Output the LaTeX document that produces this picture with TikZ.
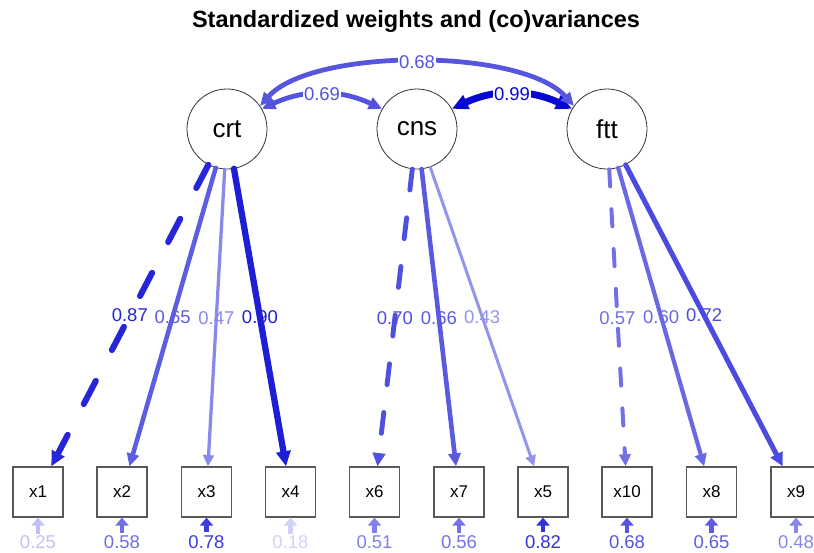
\documentclass[tikz,border=0pt]{standalone}
\usepackage{fontspec}
\setmainfont{Liberation Sans}
\usetikzlibrary{arrows.meta}

\definecolor{edgeblue}{RGB}{5,5,210}

\tikzset{
  lat/.style={circle, draw=black!80, line width=0.8pt, minimum size=80pt, inner sep=0pt,
    font=\fontsize{26}{26}\selectfont},
  obs/.style={rectangle, draw=black!65, line width=1.2pt, minimum size=50pt, inner sep=0pt,
    font=\fontsize{17}{17}\selectfont},
  % colour and width follow the standardized value
  wt/.style={/utils/exec={\pgfmathtruncatemacro\wpct{round(100*#1)}},
    color=edgeblue!\wpct!white, line width={7*#1}},
  load/.style={wt=#1, line cap=round, -{Triangle[length=7pt 1.3, width=7pt 1.1]}},
  fixdash/.style={/utils/exec={\pgfmathsetmacro\dshon{30*#1}\pgfmathsetmacro\dshoff{40*#1}},
    dash pattern=on \dshon pt off \dshoff pt},
  cov/.style={wt=#1, line cap=round,
    {Triangle[length=7pt 1.3, width=7pt 1.1]}-{Triangle[length=7pt 1.3, width=7pt 1.1]}},
  resl/.style={wt=#1, inner sep=0.5pt, font=\fontsize{18.5}{18.5}\selectfont},
  resarr/.style={wt=#1, line width=4.5pt, -{Triangle[length=8pt, width=13pt]}},
  lbl/.style={inner sep=0pt, font=\fontsize{18.5}{18.5}\selectfont},
  lblw/.style={fill=white, inner sep=1pt, font=\fontsize{18.5}{18.5}\selectfont}
}

\begin{document}
\begin{tikzpicture}[x=1pt,y=1pt]
\useasboundingbox (0,0) rectangle (814,-552);
\node (title) at (416,-21) {\fontsize{23.5}{23.5}\selectfont\bfseries Standardized weights and (co)variances};

% latent factors
\node[lat] (crt) at (227,-129) {crt};
\node[lat] (cns) at (417,-129) {cns};
\node[lat] (ftt) at (607,-129) {ftt};

% indicators
\node[obs] (x1) at (38,-492) {x1};
\node[obs] (x2) at (122,-492) {x2};
\node[obs] (x3) at (206.5,-492) {x3};
\node[obs] (x4) at (290.5,-492) {x4};
\node[obs] (x6) at (374.5,-492) {x6};
\node[obs] (x7) at (459,-492) {x7};
\node[obs] (x5) at (543,-492) {x5};
\node[obs] (x10) at (627,-492) {x10};
\node[obs] (x8) at (711.5,-492) {x8};
\node[obs] (x9) at (796,-492) {x9};

% residual variances
\node[resl=0.25] (r1) at (38,-542) {0.25};
\node[resl=0.58] (r2) at (122,-542) {0.58};
\node[resl=0.78] (r3) at (206.5,-542) {0.78};
\node[resl=0.18] (r4) at (290.5,-542) {0.18};
\node[resl=0.51] (r6) at (374.5,-542) {0.51};
\node[resl=0.56] (r7) at (459,-542) {0.56};
\node[resl=0.82] (r5) at (543,-542) {0.82};
\node[resl=0.68] (r10) at (627,-542) {0.68};
\node[resl=0.65] (r8) at (711.5,-542) {0.65};
\node[resl=0.48] (r9) at (796,-542) {0.48};

\draw[resarr=0.25] (r1) -- (x1);
\draw[resarr=0.58] (r2) -- (x2);
\draw[resarr=0.78] (r3) -- (x3);
\draw[resarr=0.18] (r4) -- (x4);
\draw[resarr=0.51] (r6) -- (x6);
\draw[resarr=0.56] (r7) -- (x7);
\draw[resarr=0.82] (r5) -- (x5);
\draw[resarr=0.68] (r10) -- (x10);
\draw[resarr=0.65] (r8) -- (x8);
\draw[resarr=0.48] (r9) -- (x9);

% loadings
\draw[load=0.87, fixdash=0.87] (crt) -- (x1) node[lbl, midway]{0.87};
\draw[load=0.65] (crt) -- (x2) node[lbl, midway]{0.65};
\draw[load=0.47] (crt) -- (x3) node[lbl, midway]{0.47};
\draw[load=0.90] (crt) -- (x4) node[lbl, midway]{0.90};
\draw[load=0.70, fixdash=0.70] (cns) -- (x6) node[lbl, midway]{0.70};
\draw[load=0.66] (cns) -- (x7) node[lbl, midway]{0.66};
\draw[load=0.43] (cns) -- (x5) node[lbl, midway]{0.43};
\draw[load=0.57, fixdash=0.57] (ftt) -- (x10) node[lbl, midway]{0.57};
\draw[load=0.60] (ftt) -- (x8) node[lbl, midway]{0.60};
\draw[load=0.72] (ftt) -- (x9) node[lbl, midway]{0.72};

% factor covariances
\draw[cov=0.69] (crt.30) to[out=25, in=155] node[lblw]{0.69} (cns.150);
\draw[cov=0.99] (cns.30) to[out=25, in=155] node[lblw]{0.99} (ftt.150);
\draw[cov=0.68] (crt.35) to[out=48, in=132, looseness=0.64] node[lblw]{0.68} (ftt.145);
\end{tikzpicture}
\end{document}
